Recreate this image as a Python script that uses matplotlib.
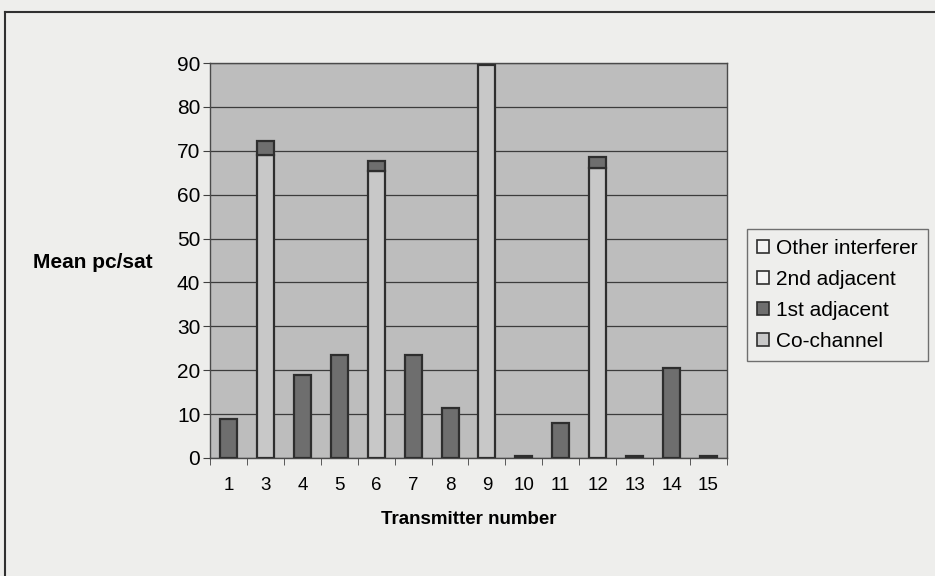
import matplotlib
matplotlib.use('Agg')
import matplotlib.pyplot as plt
import numpy as np
from matplotlib.patches import Patch
from matplotlib.lines import Line2D

plt.rcParams['font.family'] = ['Liberation Sans', 'DejaVu Sans']

# mean pc/sat per transmitter, split by interference type
transmitters = ['1', '3', '4', '5', '6', '7', '8', '9', '10', '11', '12', '13', '14', '15']
co_channel = [0, 69, 0, 0, 65.5, 0, 0, 89.5, 0, 0, 66, 0, 0, 0]
first_adjacent = [8.8, 3.2, 18.9, 23.5, 2.1, 23.5, 11.5, 0, 0.5, 8.0, 2.5, 0.5, 20.5, 0.5]
second_adjacent = [0, 0, 0, 0, 0, 0, 0, 0, 0, 0, 0, 0, 0, 0]
other_interferer = [0, 0, 0, 0, 0, 0, 0, 0, 0, 0, 0, 0, 0, 0]

bg = '#eeeeec'
plot_bg = '#bdbdbd'
edge = '#2e2e2e'
colors = {'Co-channel': '#c8c8c8', '1st adjacent': '#6e6e6e',
          '2nd adjacent': '#f4f4f4', 'Other interferer': '#f4f4f4'}

fig = plt.figure(figsize=(9.35, 5.76), dpi=100, facecolor=bg)
ax = fig.add_axes([0.2246, 0.2049, 0.5529, 0.6857])
ax.set_facecolor(plot_bg)

x = np.arange(len(transmitters))
w = 0.46
bottom = np.zeros(len(transmitters))
series = [('Co-channel', co_channel), ('1st adjacent', first_adjacent),
          ('2nd adjacent', second_adjacent), ('Other interferer', other_interferer)]
for name, vals in series:
    vals = np.array(vals, dtype=float)
    mask = vals > 0
    ax.bar(x[mask], vals[mask], w, bottom=bottom[mask], color=colors[name],
           edgecolor=edge, linewidth=1.6, zorder=3)
    bottom += vals

ax.set_xlim(-0.5, len(transmitters) - 0.5)
ax.set_ylim(0, 90)
ax.set_yticks(np.arange(0, 91, 10))
ax.yaxis.grid(True, color='#3c3c3c', linewidth=0.9, zorder=1)
ax.set_axisbelow(True)

ax.set_xticks(x)
ax.set_xticklabels(transmitters)
ax.set_xticks(np.arange(-0.5, len(transmitters), 1), minor=True)
ax.tick_params(axis='x', which='major', length=0, pad=14, labelsize=13.5)
ax.tick_params(axis='x', which='minor', length=5, color='#404040', direction='out')
ax.tick_params(axis='y', length=5, color='#404040', labelsize=15, pad=2)

for s in ax.spines.values():
    s.set_color('#4a4a4a')
    s.set_linewidth(1.0)

ax.set_xlabel('Transmitter number', fontsize=13.5, fontweight='bold', labelpad=12)
fig.text(33 / 935, 1 - 262 / 576, 'Mean pc/sat', fontsize=15, fontweight='bold',
         ha='left', va='center')

handles = [Patch(facecolor=colors[n], edgecolor=edge, linewidth=1.2)
           for n in ['Other interferer', '2nd adjacent', '1st adjacent', 'Co-channel']]
labels = ['Other interferer', '2nd adjacent', '1st adjacent', 'Co-channel']
leg = fig.legend(handles, labels, loc='upper left', bbox_to_anchor=(0.799, 0.603),
                 fontsize=15, frameon=True, fancybox=False, handlelength=0.55,
                 handleheight=0.55, handletextpad=0.35, labelspacing=0.57,
                 borderpad=0.5, borderaxespad=0)
leg.get_frame().set_facecolor(bg)
leg.get_frame().set_edgecolor('#505050')
leg.get_frame().set_linewidth(1.0)

# chart border
fig.add_artist(Line2D([0.0053, 0.0053], [0, 0.979], color='#303030', linewidth=1.5))
fig.add_artist(Line2D([0.0053, 1], [0.979, 0.979], color='#303030', linewidth=1.5))

fig.savefig('out.png', dpi=100, facecolor=bg)
